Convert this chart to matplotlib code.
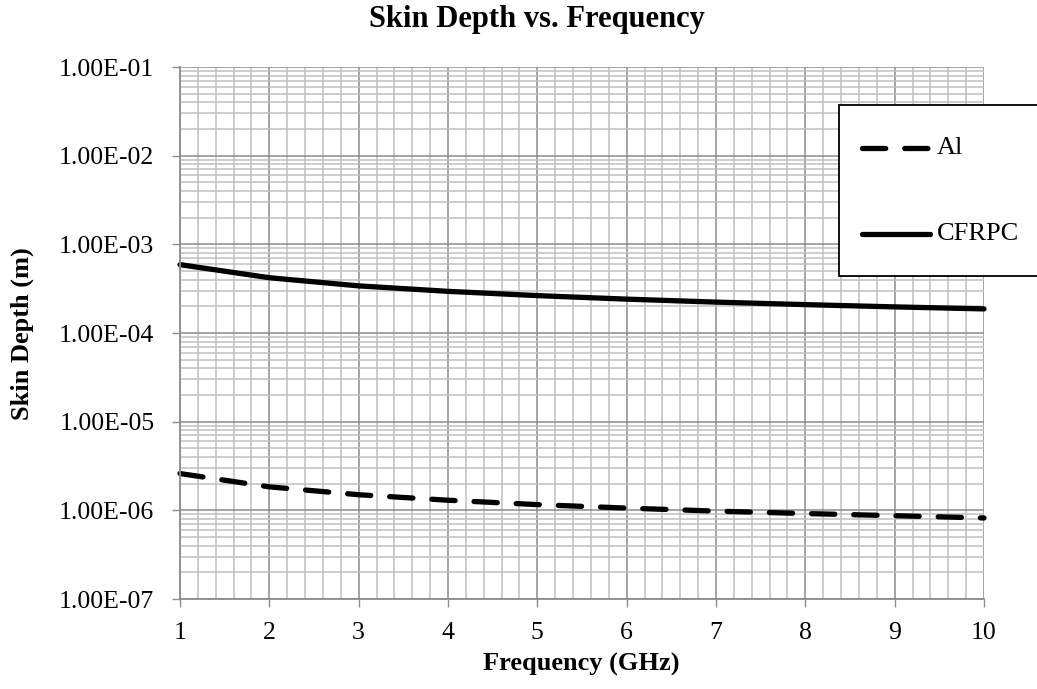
"""
Skin depth vs frequency for Al and CFRPC
"""

import numpy as np
import matplotlib
matplotlib.use('agg')

import matplotlib.pyplot as plt
from matplotlib.ticker import FixedLocator, FuncFormatter, MultipleLocator
from matplotlib.patches import Rectangle
from matplotlib.lines import Line2D

# ------------- data --------------------------------------
freq_ghz = [1, 2, 3, 4, 5, 6, 7, 8, 9, 10]
al_depth = [2.60e-6, 1.84e-6, 1.50e-6, 1.30e-6, 1.16e-6,
            1.06e-6, 0.98e-6, 0.92e-6, 0.87e-6, 0.82e-6]
cfrpc_depth = [5.90e-4, 4.20e-4, 3.40e-4, 2.95e-4, 2.64e-4,
               2.41e-4, 2.23e-4, 2.09e-4, 1.97e-4, 1.87e-4]
y_ticks = [1e-7, 1e-6, 1e-5, 1e-4, 1e-3, 1e-2, 1e-1]

plt.rcParams['font.family'] = ['Liberation Serif', 'DejaVu Serif']

major_c = '#8c8c8c'
minor_c = '#c0c0c0'
W, H = 1037.0, 689.0

# ----------- figure setup --------------------------------
fig = plt.figure(figsize=(10.37, 6.89), dpi=100)
ax = fig.add_axes([180 / W, 1 - 599 / H, (984 - 180) / W, (599 - 67) / H])

ax.set_yscale('log')
ax.set_xlim(1, 10)
ax.set_ylim(1e-7, 1e-1)

ax.xaxis.set_major_locator(MultipleLocator(1))
ax.xaxis.set_minor_locator(MultipleLocator(0.2))
ax.yaxis.set_major_locator(FixedLocator(y_ticks))
minors = [m * 10.0 ** e for e in range(-7, -1) for m in range(2, 10)]
ax.yaxis.set_minor_locator(FixedLocator(minors))
ax.yaxis.set_major_formatter(FuncFormatter(lambda v, p: '%.2E' % v))
ax.yaxis.set_minor_formatter(FuncFormatter(lambda v, p: ''))

ax.grid(True, which='minor', color=minor_c, linewidth=1.1)
ax.grid(True, which='major', color=major_c, linewidth=1.1)
ax.set_axisbelow(True)

for s in ['top', 'right']:
    ax.spines[s].set_visible(False)
for s in ['left', 'bottom']:
    ax.spines[s].set_color(major_c)
    ax.spines[s].set_linewidth(1.3)

ax.tick_params(which='major', direction='out', length=5.5, color=major_c,
               width=1.0, labelsize=18.5)
ax.tick_params(axis='y', pad=13)
ax.tick_params(axis='x', pad=11)
ax.tick_params(which='minor', length=0)

# ----------- plot lines -----------------------------------
ax.plot(freq_ghz, al_depth, color='black', lw=3.8,
        linestyle=(0, (4.4, 3.6)), dash_capstyle='round', clip_on=False)
ax.plot(freq_ghz, cfrpc_depth, color='black', lw=3.8,
        solid_capstyle='round', clip_on=False)

fig.text(537 / W, 1 - 20 / H, 'Skin Depth vs. Frequency', fontsize=22,
         fontweight='bold', ha='center', va='center')
fig.text(581 / W, 1 - 664 / H, 'Frequency (GHz)', fontsize=19,
         fontweight='bold', ha='center', va='center')
fig.text(22 / W, 1 - 334 / H, 'Skin Depth (m)', fontsize=19,
         fontweight='bold', ha='center', va='center', rotation=90)

# ----------- legend box (runs past right edge) -----------
fig.patches.append(Rectangle((839 / W, 1 - 276 / H), 0.3, (276 - 105) / H,
                             transform=fig.transFigure, facecolor='white',
                             edgecolor='black', linewidth=1.3, zorder=5))
for ypix, ls, lab in [(148, (0, (4.4, 3.6)), 'Al'), (234, '-', 'CFRPC')]:
    yy = 1 - ypix / H
    fig.lines.append(Line2D([862 / W, 930 / W], [yy, yy], transform=fig.transFigure,
                            color='black', lw=3.8, linestyle=ls,
                            dash_capstyle='round', solid_capstyle='round', zorder=6))
    fig.text(937 / W, yy, lab, fontsize=19, va='center', ha='left', zorder=6)

plt.savefig('out.png', dpi=100)
